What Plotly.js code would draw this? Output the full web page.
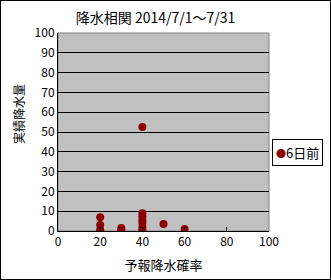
<!DOCTYPE html>
<html><head><meta charset="utf-8">
<script src="https://cdn.plot.ly/plotly-3.0.1.min.js"></script>
<style>html,body{margin:0;padding:0;background:#fff}#wrap{width:331px;height:280px;box-sizing:border-box;border:1px solid #000;position:relative;overflow:hidden}#chart{position:absolute;left:-1px;top:-1px;width:331px;height:280px}</style>
</head><body><div id="wrap"><div id="chart"></div></div>
<script>
const seriesName = "6日前";
const forecastProb = [20,20,20,20, 30,30,30, 40,40,40,40,40,40,40, 40, 50, 60];
const actualRain   = [7,3,0.5,0, 1.5,0.5,0, 9,7.5,5.5,4,2,0.5,0, 52.5, 3.5, 1];
const xTicks = [0,20,40,60,80,100];
const yTicks = [0,10,20,30,40,50,60,70,80,90,100];
const markerColor = '#8b0000';
const F = '"MS PGothic","Noto Sans CJK JP","DejaVu Sans",sans-serif';

Plotly.newPlot('chart', [{
  type:'scatter', mode:'markers', name:seriesName,
  x:forecastProb, y:actualRain,
  marker:{color:markerColor, size:8}
}], {
  width:331, height:280,
  margin:{l:58, r:62, t:33, b:49, autoexpand:false},
  paper_bgcolor:'#fff', plot_bgcolor:'#c0c0c0',
  font:{family:F, size:12, color:'#000'},
  title:{text:'降水相関 2014/7/1～7/31', font:{family:F,size:14,color:'#000'}, x:0.47, xanchor:'center', xref:'container', y:0.935, yanchor:'middle', yref:'container'},
  xaxis:{range:[0,100], tickvals:xTicks, ticktext:xTicks.map(String), showgrid:false, zeroline:false,
    showline:true, linecolor:'#000', linewidth:1, ticks:'inside', ticklen:4, tickcolor:'#000',
    tickfont:{size:12}, title:{text:'予報降水確率', font:{size:13}, standoff:12}},
  yaxis:{range:[0,100], tickvals:yTicks, ticktext:yTicks.map(String), showgrid:true, gridcolor:'#000', gridwidth:1, zeroline:false,
    showline:true, linecolor:'#000', linewidth:1, ticks:'inside', ticklen:4, tickcolor:'#000',
    tickfont:{size:12}},
  shapes:[{type:'rect', xref:'paper', yref:'paper', x0:0, x1:1, y0:0, y1:1, line:{color:'#808080', width:1}, layer:'below'}],
  annotations:[
    {text:'実績降水量', xref:'paper', yref:'paper', x:-0.19, y:0.59, textangle:-90, showarrow:false, font:{size:12}, xanchor:'center', yanchor:'middle'},
    {text:'<span style="color:'+markerColor+';font-size:10px">●</span>'+seriesName, xref:'paper', yref:'paper', x:1.014, y:0.465, xanchor:'left', yanchor:'top', showarrow:false,
     bgcolor:'#fff', bordercolor:'#000', borderwidth:1, borderpad:3, font:{size:13}}
  ],
  showlegend:false
}, {displayModeBar:false, staticPlot:true});
</script></body></html>
